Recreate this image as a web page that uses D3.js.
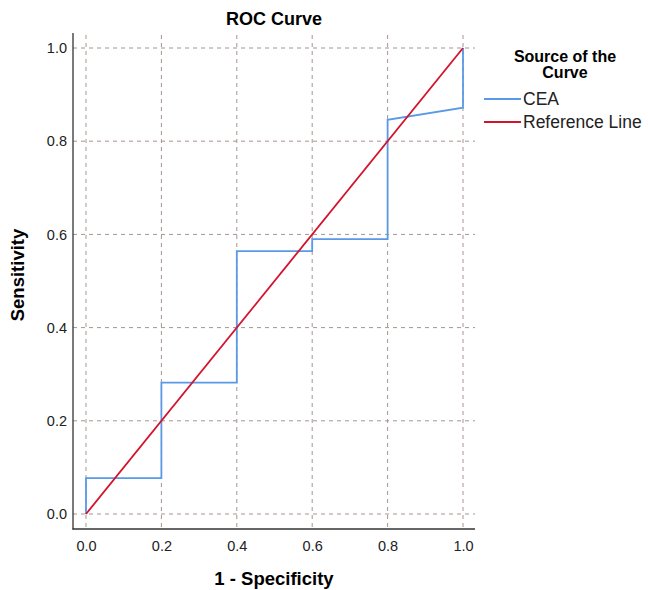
<!DOCTYPE html>
<html><head><meta charset="utf-8">
<script src="https://cdn.jsdelivr.net/npm/d3@7"></script>
<style>body{margin:0;background:#fff}svg{display:block}</style>
</head><body>
<script>
const ticks = [0, 0.2, 0.4, 0.6, 0.8, 1.0];
const ceaX = [0, 0, 0.2, 0.2, 0.4, 0.4, 0.6, 0.6, 0.8, 0.8, 1.0, 1.0];
const ceaY = [0, 0.077, 0.077, 0.282, 0.282, 0.564, 0.564, 0.59, 0.59, 0.846, 0.872, 1.0];
const refX = [0, 1];
const refY = [0, 1];
const seriesNames = ["CEA", "Reference Line"];
const colors = ["#5a99e6", "#d3122c"];

const W = 648, H = 590;
const svg = d3.select("body").append("svg").attr("width", W).attr("height", H);
const x = d3.scaleLinear().domain([0, 1]).range([86, 463]);
const y = d3.scaleLinear().domain([0, 1]).range([514, 48]);
const font = "'Liberation Sans', Arial, sans-serif";
const grid = "#a6948f";

// grid
svg.append("g").selectAll("line").data(ticks).join("line")
  .attr("x1", d => x(d)).attr("x2", d => x(d)).attr("y1", 35).attr("y2", 529)
  .attr("stroke", grid).attr("stroke-width", 1).attr("stroke-dasharray", "4,4");
svg.append("g").selectAll("line").data(ticks).join("line")
  .attr("x1", 73).attr("x2", 475).attr("y1", d => y(d)).attr("y2", d => y(d))
  .attr("stroke", grid).attr("stroke-width", 1).attr("stroke-dasharray", "4,4");

// axes
const xAxis = d3.axisBottom(x).tickValues(ticks).tickFormat(d3.format(".1f")).tickSize(0).tickPadding(12);
const gx = svg.append("g").attr("transform", "translate(0,529)").call(xAxis);
gx.select(".domain").remove();
gx.selectAll("text").attr("font-family", font).attr("font-size", 14.5).attr("fill", "#222");
const yAxis = d3.axisLeft(y).tickValues(ticks).tickFormat(d3.format(".1f")).tickSize(0).tickPadding(6);
const gy = svg.append("g").attr("transform", "translate(73,0)").call(yAxis);
gy.select(".domain").remove();
gy.selectAll("text").attr("font-family", font).attr("font-size", 14.5).attr("fill", "#222");

svg.append("line").attr("x1", 73).attr("x2", 73).attr("y1", 33).attr("y2", 529.5).attr("stroke", "#333").attr("stroke-width", 1.3);
svg.append("line").attr("x1", 72.5).attr("x2", 475).attr("y1", 529).attr("y2", 529).attr("stroke", "#333").attr("stroke-width", 1.3);

// lines
const line = d3.line().x(d => x(d[0])).y(d => y(d[1]));
svg.append("path").datum(ceaX.map((v, i) => [v, ceaY[i]])).attr("d", line)
  .attr("fill", "none").attr("stroke", colors[0]).attr("stroke-width", 1.8);
svg.append("path").datum(refX.map((v, i) => [v, refY[i]])).attr("d", line)
  .attr("fill", "none").attr("stroke", colors[1]).attr("stroke-width", 1.8);

// titles
svg.append("text").attr("x", 274).attr("y", 25).attr("text-anchor", "middle")
  .attr("font-family", font).attr("font-weight", "bold").attr("font-size", 18).text("ROC Curve");
svg.append("text").attr("x", 274).attr("y", 585).attr("text-anchor", "middle")
  .attr("font-family", font).attr("font-weight", "bold").attr("font-size", 18.5).text("1 - Specificity");
svg.append("text").attr("transform", "translate(24,275) rotate(-90)").attr("text-anchor", "middle")
  .attr("font-family", font).attr("font-weight", "bold").attr("font-size", 18.5).text("Sensitivity");

// legend
svg.append("text").attr("x", 565).attr("y", 62).attr("text-anchor", "middle")
  .attr("font-family", font).attr("font-weight", "bold").attr("font-size", 16).text("Source of the");
svg.append("text").attr("x", 565).attr("y", 78).attr("text-anchor", "middle")
  .attr("font-family", font).attr("font-weight", "bold").attr("font-size", 16).text("Curve");
const lg = svg.append("g").selectAll("g").data(seriesNames).join("g")
  .attr("transform", (d, i) => `translate(484,${99 + i * 23})`);
lg.append("line").attr("x1", 0).attr("x2", 37).attr("y1", 0).attr("y2", 0)
  .attr("stroke", (d, i) => colors[i]).attr("stroke-width", 2);
lg.append("text").attr("x", 39).attr("y", 6).attr("font-family", font).attr("font-size", 17.5)
  .attr("fill", "#222").text(d => d);
</script>
</body></html>
